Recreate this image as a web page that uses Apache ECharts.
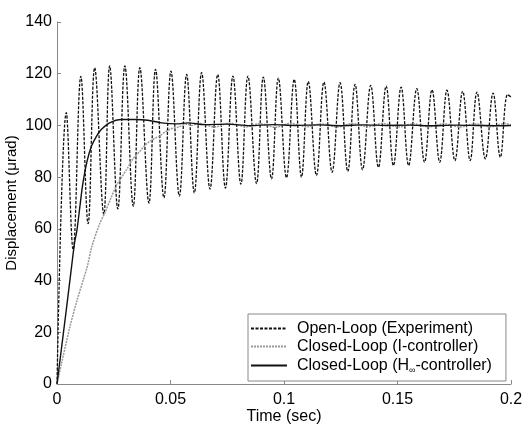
<!DOCTYPE html>
<html>
<head>
<meta charset="utf-8">
<script src="https://cdn.jsdelivr.net/npm/echarts@6/dist/echarts.min.js"></script>
<style>
  html, body { margin: 0; padding: 0; background: #fff; }
  #chart { width: 522px; height: 424px; }
</style>
</head>
<body>
<div id="chart"></div>
<script>
// open-loop (experiment): peaks and troughs
var olPeakT = [0.0041, 0.0105, 0.0166, 0.0232, 0.0299, 0.0365, 0.0434, 0.0502, 0.0571, 0.0637,
  0.0708, 0.0775, 0.0841, 0.0909, 0.0975, 0.1045, 0.1107, 0.1176, 0.1247, 0.1313,
  0.1382, 0.1450, 0.1516, 0.1585, 0.1652, 0.1718, 0.1787, 0.1850, 0.1921, 0.1985];
var olPeakV = [104.9, 119, 122.3, 123, 123, 122.3, 121.7, 121, 119.7, 120.4,
  119.7, 119.1, 119.1, 118.7, 118.3, 117.8, 117, 116.8, 116.5, 115.9,
  115.5, 115.2, 114.8, 114.2, 113.8, 113.6, 113.2, 112.9, 112.5, 111.9];
var olTroughT = [0.0071, 0.0137, 0.0206, 0.0268, 0.0336, 0.0405, 0.0471, 0.0539, 0.0605, 0.0674,
  0.0742, 0.0810, 0.0879, 0.0945, 0.1011, 0.1077, 0.1143, 0.1212, 0.1281, 0.1346,
  0.1416, 0.1482, 0.1549, 0.1619, 0.1686, 0.1753, 0.1820, 0.1887, 0.1953];
var olTroughV = [52, 62, 65.7, 67.7, 68.8, 70, 72, 72.7, 73.9, 75.4,
  75.8, 77.3, 77.5, 79.3, 79.8, 80, 80.6, 81.9, 82.2, 82.9,
  83.8, 84.5, 84.5, 85.8, 85.8, 86.4, 86.4, 87.1, 87.7];
var olEndT = [0, 0.2];
var olEndV = [0, 111];

// closed-loop, I-controller (grey)
var ciT = [0, 0.0019, 0.0056, 0.0087, 0.0115, 0.0135, 0.0153, 0.0188, 0.021, 0.0238,
  0.0263, 0.0285, 0.0307, 0.0334, 0.0365, 0.0396, 0.0431, 0.0453, 0.0475, 0.0506,
  0.0532, 0.0572, 0.0594, 0.0625, 0.0695, 0.076, 0.083, 0.0895, 0.096, 0.103,
  0.11, 0.1165, 0.1235, 0.13, 0.137, 0.1435, 0.1505, 0.157, 0.164, 0.1705,
  0.1775, 0.184, 0.191, 0.1975, 0.2];
var ciV = [0, 7.6, 21.8, 32, 40, 46, 53, 62, 66, 72,
  77, 80, 83, 87, 90, 93, 95, 96, 97.4, 98.8,
  99.3, 100.5, 100, 100.8, 99.4, 100.9, 99.5, 100.7, 99.3, 100.8,
  99.5, 100.6, 99.4, 100.7, 99.5, 100.8, 99.4, 100.6, 99.5, 100.7,
  99.4, 100.6, 99.5, 100.7, 100.2];

// closed-loop, H-infinity controller (black solid)
var hiT = [0, 0.002, 0.004, 0.0065, 0.0078, 0.0087, 0.01, 0.0113, 0.0132, 0.0152,
  0.0175, 0.0196, 0.0232, 0.0284, 0.0343, 0.04, 0.046, 0.0527, 0.0577, 0.065,
  0.075, 0.085, 0.095, 0.105, 0.115, 0.125, 0.135, 0.145, 0.155, 0.165,
  0.175, 0.185, 0.195, 0.2];
var hiV = [0, 14, 28, 46, 55, 59, 68, 77, 86, 92,
  96, 98.5, 101, 102.3, 102.3, 102, 101, 100.6, 101, 100.3,
  100.5, 99.9, 100.3, 100, 100.2, 99.9, 100.2, 100, 100.1, 99.9,
  100.1, 100, 99.9, 100];

var seriesNames = ['Open-Loop (Experiment)', 'Closed-Loop (I-controller)', 'Closed-Loop (H∞-controller)'];

function pairs(t, v) {
  var out = [];
  for (var i = 0; i < t.length; i++) out.push([t[i], v[i]]);
  return out;
}

// merge peaks/troughs into one time-ordered list
var olData = pairs(olEndT, olEndV).concat(pairs(olPeakT, olPeakV), pairs(olTroughT, olTroughV));
olData.sort(function (a, b) { return a[0] - b[0]; });

var font = 'Liberation Sans, Arial, sans-serif';
var chart = echarts.init(document.getElementById('chart'));
chart.setOption({
  animation: false,
  backgroundColor: '#fff',
  textStyle: { fontFamily: font, color: '#000' },
  grid: { left: 57, right: 11, top: 22, bottom: 40, outerBoundsMode: 'none' },
  xAxis: {
    type: 'value', min: 0, max: 0.2, interval: 0.05,
    name: 'Time (sec)', nameLocation: 'middle', nameGap: 25, nameMoveOverlap: false,
    nameTextStyle: { fontSize: 16, fontFamily: font, color: '#000' },
    axisLine: { lineStyle: { color: '#888', width: 1 } },
    axisTick: { inside: true, length: 4, lineStyle: { color: '#888' } },
    axisLabel: { fontSize: 16, fontFamily: font, color: '#000', margin: 8 },
    splitLine: { show: false }
  },
  yAxis: {
    type: 'value', min: 0, max: 140, interval: 20,
    name: 'Displacement (μrad)', nameLocation: 'middle', nameGap: 38, nameMoveOverlap: false,
    nameTextStyle: { fontSize: 15, fontFamily: font, color: '#000' },
    axisLine: { show: true, lineStyle: { color: '#888', width: 1 } },
    axisTick: { show: true, inside: true, length: 4, lineStyle: { color: '#888' } },
    axisLabel: { fontSize: 16, fontFamily: font, color: '#000', margin: 5 },
    splitLine: { show: false }
  },
  legend: {
    orient: 'vertical', left: 248, top: 314,
    padding: [6, 14, 6, 2], itemGap: 1,
    itemWidth: 36, itemHeight: 14,
    borderColor: '#888', borderWidth: 1, backgroundColor: '#fff',
    itemStyle: { opacity: 0 },
    data: seriesNames,
    formatter: function (name) {
      if (name === seriesNames[2]) return 'Closed-Loop (H{s|∞}-controller)';
      return name;
    },
    textStyle: {
      fontSize: 16, fontFamily: font, color: '#000', lineHeight: 17,
      padding: [0, 0, 0, 5],
      rich: { s: { fontSize: 9, fontFamily: font, verticalAlign: 'bottom', lineHeight: 19 } }
    }
  },
  series: [
    {
      name: seriesNames[0], type: 'line', data: olData,
      showSymbol: false, symbol: 'none', smooth: 0.4,
      lineStyle: { color: '#111', width: 1.3, type: [3, 1.5] }
    },
    {
      name: seriesNames[1], type: 'line', data: pairs(ciT, ciV),
      showSymbol: false, symbol: 'none', smooth: 0.3,
      lineStyle: { color: '#999', width: 1.5, type: [2, 1] }
    },
    {
      name: seriesNames[2], type: 'line', data: pairs(hiT, hiV),
      showSymbol: false, symbol: 'none', smooth: 0.3,
      lineStyle: { color: '#111', width: 1.4 }
    }
  ]
});
</script>
</body>
</html>
